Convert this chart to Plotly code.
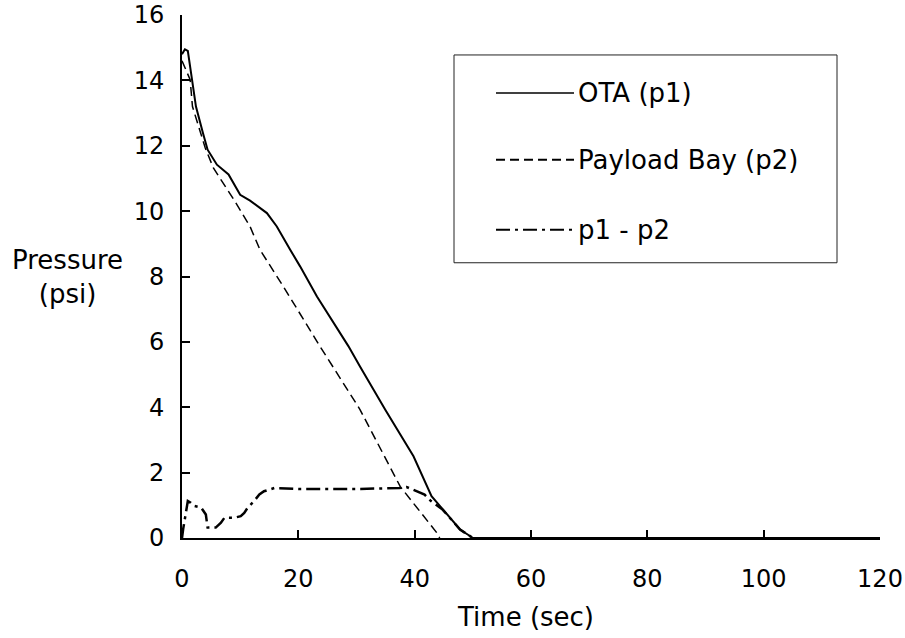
import plotly.graph_objects as go

# ---- data ----
ota_t = [0, 0.5, 1.0, 1.5, 2.4, 3.6, 4.4, 6.0, 8.0, 10.0, 11.7, 14.6, 16.3, 18.6, 20.3, 23.2, 28.6, 30.6, 35.0, 39.8, 42.9, 44.4, 47.8, 49.5, 50.0, 120]
ota_p = [14.8, 14.95, 14.9, 14.23, 13.2, 12.39, 11.88, 11.42, 11.12, 10.5, 10.32, 9.94, 9.53, 8.82, 8.31, 7.39, 5.87, 5.25, 3.91, 2.5, 1.28, 0.97, 0.26, 0.06, 0.0, 0.0]

pb_t = [0, 0.5, 1.4, 1.8, 3.3, 4.0, 5.4, 9.1, 11.7, 13.4, 17.4, 23.7, 30.6, 37.5, 43.8, 44.3]
pb_p = [14.6, 14.4, 14.02, 13.2, 12.29, 11.93, 11.32, 10.3, 9.53, 8.82, 7.7, 5.87, 3.93, 1.58, 0.16, 0.0]

dp_t = [0, 0.2, 1.0, 1.5, 2.1, 3.3, 4.1, 4.4, 5.8, 6.7, 7.3, 9.0, 10.1, 10.7, 11.3, 12.4, 13.3, 14.1, 15.9, 20.0, 30.0, 37.4, 38.6, 39.7, 41.7, 42.8, 44.8, 47.8, 49.5, 50.0]
dp_p = [0.0, 0.27, 1.13, 1.08, 0.98, 0.93, 0.72, 0.32, 0.32, 0.47, 0.62, 0.62, 0.67, 0.77, 0.93, 1.13, 1.33, 1.43, 1.53, 1.5, 1.5, 1.53, 1.56, 1.48, 1.33, 1.13, 0.87, 0.26, 0.06, 0.0]

series_names = ["OTA (p1)", "Payload Bay (p2)", "p1 - p2"]
x_ticks = [0, 20, 40, 60, 80, 100, 120]
y_ticks = [0, 2, 4, 6, 8, 10, 12, 14, 16]

FONT = "DejaVu Sans"
FS_TICK = 24
FS_TEXT = 26

W, H = 905, 638
# plot area in window pixels: x 182..880, y 15..538.5
L, T = 182, 15
R = W - 880
B = H - 538.5
pw, ph = W - L - R, H - T - B

def px(x):  # window pixel -> paper x
    return (x - L) / pw

def py(y):  # window pixel -> paper y
    return (H - B - y) / ph

fig = go.Figure()
fig.add_trace(go.Scatter(x=ota_t, y=ota_p, mode="lines", name=series_names[0],
                         line=dict(color="black", width=2), showlegend=False))
fig.add_trace(go.Scatter(x=pb_t, y=pb_p, mode="lines", name=series_names[1],
                         line=dict(color="black", width=1.5, dash="9px,5px"), showlegend=False))
fig.add_trace(go.Scatter(x=dp_t, y=dp_p, mode="lines", name=series_names[2],
                         line=dict(color="black", width=2.5, dash="14px,5px,3px,5px"), showlegend=False))

# legend box drawn by hand to match the reference layout
fig.add_shape(type="rect", xref="paper", yref="paper",
              x0=px(454), x1=px(837), y0=py(263), y1=py(55),
              line=dict(color="#222", width=1), fillcolor="white", layer="below")
rows = [93, 160, 230]
dashes = ["solid", "9px,5px", "14px,5px,3px,5px"]
widths = [1.5, 2, 2]
for name, ry, d, w in zip(series_names, rows, dashes, widths):
    fig.add_shape(type="line", xref="paper", yref="paper",
                  x0=px(496), x1=px(574), y0=py(ry), y1=py(ry),
                  line=dict(color="black", width=w, dash=d))
    fig.add_annotation(text=name, xref="paper", yref="paper", x=px(576), y=py(ry),
                       xanchor="left", yanchor="middle", showarrow=False,
                       font=dict(family=FONT, size=FS_TEXT, color="black"))

# axis titles
fig.add_annotation(text="Pressure<br>(psi)", xref="paper", yref="paper", x=px(67), y=py(277),
                   xanchor="center", yanchor="middle", showarrow=False,
                   font=dict(family=FONT, size=FS_TEXT, color="black"))
fig.add_annotation(text="Time (sec)", xref="paper", yref="paper", x=px(525), y=py(618),
                   xanchor="center", yanchor="middle", showarrow=False,
                   font=dict(family=FONT, size=FS_TEXT, color="black"))

fig.update_layout(
    width=W, height=H,
    margin=dict(l=L, r=R, t=T, b=B, pad=0, autoexpand=False),
    paper_bgcolor="white", plot_bgcolor="white",
    font=dict(family=FONT, size=FS_TICK, color="black"),
    showlegend=False,
    xaxis=dict(range=[0, 120], tickvals=x_ticks, ticktext=[str(v) for v in x_ticks],
               automargin=False,
               showgrid=False, zeroline=False, showline=True, linecolor="black", linewidth=2,
               ticks="inside", ticklen=8, tickwidth=1.5, tickcolor="black",
               ticklabeloverflow="allow",
               ticklabelstandoff=18, tickfont=dict(family=FONT, size=FS_TICK, color="black")),
    yaxis=dict(range=[0, 16], tickvals=y_ticks, ticktext=[str(v) for v in y_ticks],
               automargin=False,
               showgrid=False, zeroline=False, showline=True, linecolor="black", linewidth=2,
               ticks="inside", ticklen=8, tickwidth=1.5, tickcolor="black",
               ticklabeloverflow="allow",
               ticklabelstandoff=11, tickfont=dict(family=FONT, size=FS_TICK, color="black")),
)

# remove the default 8px page margin so the 905x638 figure fills the window exactly
fig.write_html("out.html", config={"displayModeBar": False},
               post_script="document.body.style.margin='0';document.body.style.overflow='hidden';")
